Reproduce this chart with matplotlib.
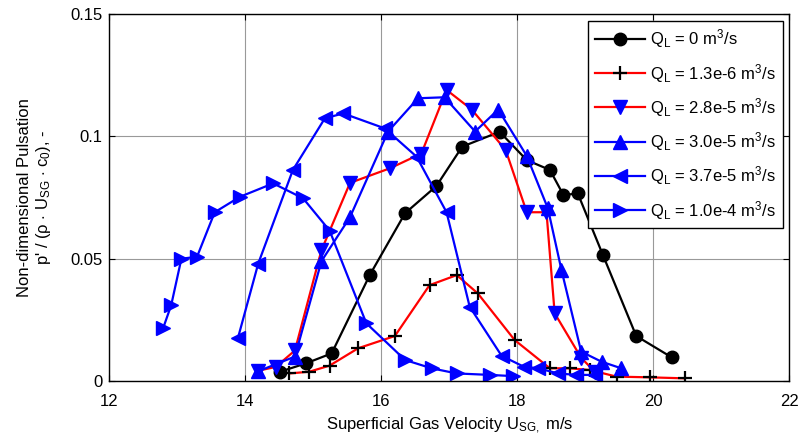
import numpy as np
import matplotlib.pyplot as plt

plt.rcParams['font.family'] = ['Liberation Sans', 'DejaVu Sans']
plt.rcParams['mathtext.fontset'] = 'custom'
plt.rcParams['mathtext.rm'] = 'Liberation Sans'
plt.rcParams['mathtext.it'] = 'Liberation Sans'

# Q_L = 0
x_q0 = [14.51, 14.89, 15.27, 15.83, 16.35, 16.81, 17.19, 17.74, 18.14, 18.48, 18.68, 18.89, 19.26, 19.75, 20.27]
y_q0 = [0.0038, 0.0072, 0.0113, 0.0433, 0.0686, 0.0797, 0.0958, 0.1019, 0.0903, 0.0863, 0.0760, 0.0767, 0.0515, 0.0184, 0.0097]

# Q_L = 1.3e-6
x_q1 = [14.65, 14.94, 15.24, 15.66, 16.20, 16.71, 17.11, 17.42, 17.96, 18.48, 18.77, 19.07, 19.46, 19.95, 20.46]
y_q1 = [0.0031, 0.0038, 0.0063, 0.0134, 0.0184, 0.0392, 0.0433, 0.0358, 0.0168, 0.0052, 0.0052, 0.0045, 0.0018, 0.0015, 0.0011]

# Q_L = 2.8e-5
x_q2 = [14.19, 14.45, 14.73, 15.12, 15.54, 16.13, 16.59, 16.96, 17.33, 17.83, 18.14, 18.43, 18.55, 18.94, 19.15]
y_q2 = [0.0042, 0.0058, 0.0125, 0.0535, 0.0810, 0.0870, 0.0930, 0.1190, 0.1110, 0.0944, 0.0690, 0.0690, 0.0277, 0.0095, 0.0035]

# Q_L = 3.0e-5
x_q3 = [14.19, 14.73, 15.12, 15.54, 16.10, 16.54, 16.93, 17.38, 17.72, 18.14, 18.45, 18.65, 18.94, 19.24, 19.53]
y_q3 = [0.0040, 0.0100, 0.0490, 0.0670, 0.1020, 0.1156, 0.1160, 0.1020, 0.1110, 0.0920, 0.0706, 0.0454, 0.0120, 0.0079, 0.0052]

# Q_L = 3.7e-5
x_q4 = [13.89, 14.19, 14.70, 15.17, 15.44, 16.05, 16.52, 16.96, 17.30, 17.77, 18.10, 18.31, 18.60, 18.87, 19.14]
y_q4 = [0.0174, 0.0480, 0.0863, 0.1074, 0.1094, 0.1033, 0.0917, 0.0690, 0.0304, 0.0103, 0.0058, 0.0052, 0.0031, 0.0025, 0.0025]

# Q_L = 1.0e-4
x_q5 = [12.79, 12.91, 13.06, 13.29, 13.55, 13.92, 14.41, 14.85, 15.24, 15.78, 16.35, 16.74, 17.11, 17.60, 17.94]
y_q5 = [0.0215, 0.0310, 0.0500, 0.0508, 0.0690, 0.0753, 0.0808, 0.0747, 0.0615, 0.0236, 0.0086, 0.0052, 0.0031, 0.0025, 0.0020]

labels = [r"Q$_L$ = 0 m$^3$/s", r"Q$_L$ = 1.3e-6 m$^3$/s", r"Q$_L$ = 2.8e-5 m$^3$/s",
          r"Q$_L$ = 3.0e-5 m$^3$/s", r"Q$_L$ = 3.7e-5 m$^3$/s", r"Q$_L$ = 1.0e-4 m$^3$/s"]

fig = plt.figure(figsize=(7.98, 4.41), dpi=100)
ax = fig.add_axes([0.137, 0.136, 0.852, 0.832])

ax.plot(x_q0, y_q0, color='black', lw=1.6, marker='o', ms=9, mfc='black', mec='black', label=labels[0])
ax.plot(x_q1, y_q1, color='red', lw=1.6, marker='+', ms=10, mew=1.6, mec='black', label=labels[1])
ax.plot(x_q2, y_q2, color='red', lw=1.6, marker='v', ms=10, mfc='blue', mec='blue', label=labels[2])
ax.plot(x_q3, y_q3, color='blue', lw=1.6, marker='^', ms=10, mfc='blue', mec='blue', label=labels[3])
ax.plot(x_q4, y_q4, color='blue', lw=1.6, marker='<', ms=10, mfc='blue', mec='blue', label=labels[4])
ax.plot(x_q5, y_q5, color='blue', lw=1.6, marker='>', ms=10, mfc='blue', mec='blue', label=labels[5])

ax.set_xlim(12, 22)
ax.set_ylim(0, 0.15)
ax.set_xticks([12, 14, 16, 18, 20, 22])
ax.set_yticks([0, 0.05, 0.1, 0.15])
ax.set_yticklabels(['0', '0.05', '0.1', '0.15'])
ax.grid(True, color='#999999', lw=0.8)
ax.tick_params(direction='in', top=True, right=True, labelsize=12, length=4)
ax.tick_params(axis='x', pad=9)
ax.tick_params(axis='y', pad=5)
for s in ax.spines.values():
    s.set_linewidth(1.0)

ax.set_xlabel(r"Superficial Gas Velocity U$_{SG,}$ m/s", fontsize=12, labelpad=5)
ax.set_ylabel("Non-dimensional Pulsation\n" + r"p' / ($\rho$ $\cdot$ U$_{SG}$ $\cdot$ c$_0$), -",
              fontsize=12, labelpad=12)

leg = ax.legend(loc='upper right', fontsize=12, handlelength=3.0, fancybox=False,
                framealpha=1, edgecolor='black', borderaxespad=0.4, labelspacing=0.68,
                handletextpad=0.3)
leg.get_frame().set_linewidth(1.0)

fig.savefig('out.png', dpi=100)
